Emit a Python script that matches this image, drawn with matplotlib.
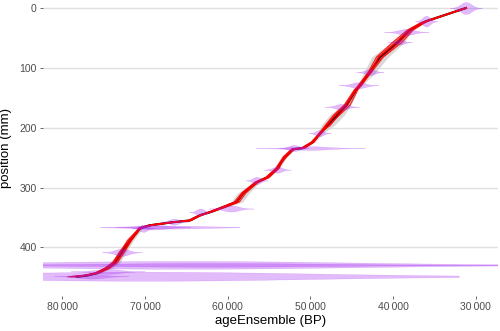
import numpy as np
import matplotlib
matplotlib.use("Agg")
import matplotlib.pyplot as plt
from matplotlib.ticker import FuncFormatter

plt.rcParams['font.family'] = ['Liberation Sans', 'DejaVu Sans']

# Age-depth model: median path (depth in mm, age in yr BP)
depth = [0, 22, 25, 37, 58, 82, 107, 129, 137, 162, 179, 196, 209, 224, 234, 236, 249, 268,
         283, 291, 309, 324, 333, 341, 346, 355, 358, 363, 368, 375, 388, 408, 425, 435, 443, 447, 449]
age_median = [31200, 36000, 36500, 38000, 39500, 41600, 42800, 44000, 44500, 45600, 46800, 47900,
              48800, 49700, 50900, 52100, 53100, 54000, 55200, 56500, 58100, 58900, 60600, 62100,
              63300, 64600, 66700, 69400, 70600, 71000, 71800, 72800, 73600, 74600, 75800, 77000, 78200]
ribbon_half = [150, 200, 250, 350, 800, 1000, 700, 300, 250, 500, 900, 800, 350, 250, 300, 250,
               250, 250, 300, 350, 700, 700, 350, 250, 250, 250, 250, 300, 300, 350, 400, 500, 600,
               600, 450, 350, 300]

# a few ensemble members
member_1 = [31200, 35900, 36300, 37600, 39000, 41200, 42600, 43900, 44300, 45200, 46500, 47800,
            48700, 49600, 50700, 52000, 53000, 53900, 55000, 56300, 57800, 58600, 60300, 62000,
            63200, 64400, 66500, 69200, 70500, 70900, 71600, 72500, 73300, 74300, 75600, 77200, 79300]
member_2 = [31200, 36000, 36700, 38300, 40100, 42000, 43000, 44100, 44700, 45900, 47200, 48200,
            48900, 49800, 51000, 52300, 53300, 54200, 55400, 56700, 58300, 59200, 60800, 62300,
            63400, 64800, 66900, 69600, 70700, 71200, 72100, 73000, 73900, 74900, 76100, 77600, 78800]
member_3 = [31200, 36100, 36600, 38100, 39800, 41800, 42700, 43800, 44400, 45800, 47100, 48000,
            48700, 49700, 50800, 52000, 52900, 54100, 55300, 56600, 58000, 59000, 60700, 62200,
            63300, 64500, 66800, 69300, 70400, 71100, 71900, 73100, 73800, 74700, 76000, 77300, 78500]
member_4 = [31200, 35800, 36200, 37800, 39300, 41300, 42900, 44200, 44600, 45500, 46600, 47600,
            48900, 49900, 51100, 52200, 53200, 53800, 55100, 56400, 58200, 58800, 60500, 62000,
            63400, 64700, 66600, 69500, 70800, 71000, 71700, 72600, 73500, 74400, 75700, 77100, 79000]
member_5 = [31200, 36000, 36400, 37900, 39600, 41700, 42800, 44000, 44600, 45700, 46900, 48100,
            48800, 49600, 50900, 52100, 53100, 54000, 55200, 56500, 58100, 58900, 60600, 62100,
            63200, 64600, 66700, 69300, 70600, 71000, 71800, 72800, 73700, 74600, 75900, 77200, 78400]
members = [member_1, member_2, member_3, member_4, member_5]

# dated horizons: age distributions
dist_depth = [0, 22, 40, 57, 107, 129, 165, 209, 234, 234, 270, 288, 335, 341, 357, 366, 366, 368,
              408, 440, 448, 430, 430, 449]
dist_age = [31200, 36000, 38400, 39200, 42800, 44200, 46200, 48900, 52000, 50000, 54000, 56500,
            59600, 63300, 66500, 67000, 69000, 70200, 72800, 74500, 76500, 65000, 62000, 70000]
dist_sd = [650, 450, 900, 500, 550, 800, 700, 450, 600, 2200, 550, 450, 900, 450, 550, 4200, 1500,
           450, 800, 1500, 1500, 20000, 14000, 20000]
dist_height = [10, 9, 5, 4, 5, 5, 5, 5, 5, 3, 5, 6, 5, 6, 5, 2.5, 4, 6, 6, 4, 4, 6.5, 3, 7.5]
dist_cut = [3, 3, 3, 3, 3, 3, 3, 3, 3, 3, 3, 3, 3, 3, 3, 2, 3, 3, 3, 3, 3, 1.9, 2.5, 1.9]

fig = plt.figure(figsize=(5, 3.31), dpi=100)
ax = fig.add_axes([0.086, 0.106, 0.91, 0.894])

ages = np.array(age_median)
half = np.array(ribbon_half)
ax.fill_betweenx(depth, ages - half, ages + half, color='#c8c8c8', alpha=0.7, lw=0, zorder=1)
ax.plot(age_median, depth, color='black', lw=1.6, zorder=2)
for m in members:
    ax.plot(m, depth, color='red', lw=0.9, alpha=0.85, zorder=3)

for d, a, s, h, c in zip(dist_depth, dist_age, dist_sd, dist_height, dist_cut):
    x = np.linspace(a - c * s, a + c * s, 200)
    w = h * np.exp(-0.5 * ((x - a) / s) ** 2)
    ax.fill_between(x, d - w, d + w, color='#A020F0', alpha=0.3, lw=0.3, zorder=4)

ax.set_xlim(82330, 27320)
ax.set_ylim(481, -13.4)
ax.set_xticks([80000, 70000, 60000, 50000, 40000, 30000])
ax.set_yticks([0, 100, 200, 300, 400])
ax.xaxis.set_major_formatter(FuncFormatter(lambda v, p: f"{int(v):,}".replace(",", "\u2009")))
ax.grid(axis='y', color='#e0e0e0', lw=1)
ax.set_axisbelow(True)
for s in ax.spines.values():
    s.set_visible(False)
ax.tick_params(length=2.5, width=0.6, color='#4d4d4d', labelcolor='#4d4d4d', labelsize=7.5, pad=2)
ax.set_xlabel("ageEnsemble (BP)", fontsize=9.5, labelpad=2)
ax.set_ylabel("position (mm)", fontsize=9.5, labelpad=5)

fig.savefig("out.png", dpi=100)
